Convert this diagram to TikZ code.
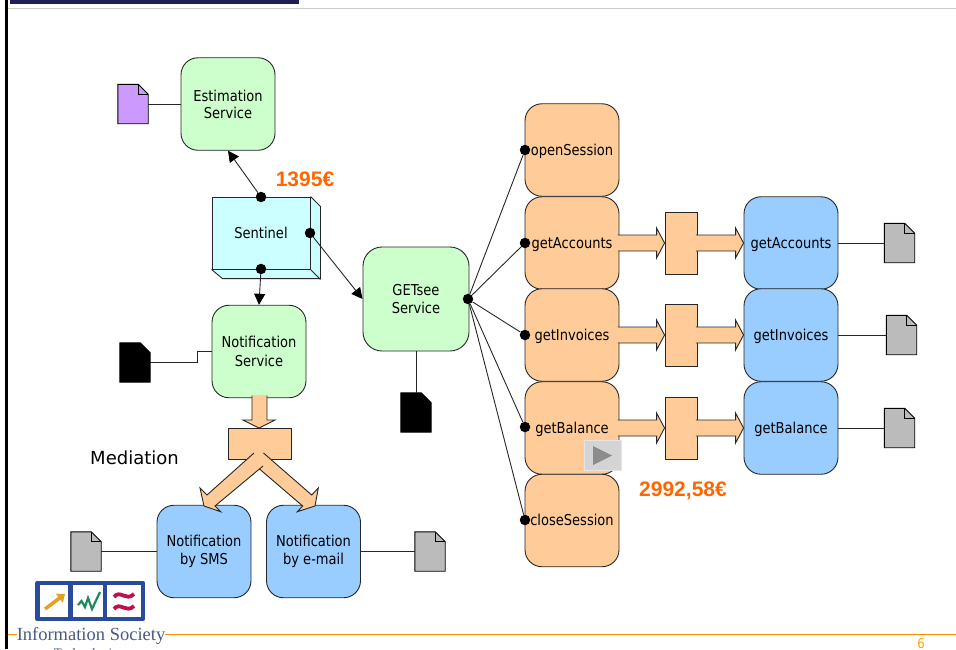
\documentclass[tikz,border=0pt]{standalone}
\usepackage{fontspec}
\setmainfont[FakeStretch=0.87]{DejaVu Sans}
\newfontfamily\medfont{DejaVu Sans}
\newfontfamily\arialbold{Liberation Sans}
\newfontfamily\logofont{Liberation Serif}
\usetikzlibrary{calc,arrows.meta}

\definecolor{svcgreen}{HTML}{CCFFCC}
\definecolor{svccyan}{HTML}{CCFFFF}
\definecolor{svcpeach}{HTML}{FFCC99}
\definecolor{svcblue}{HTML}{99CCFF}
\definecolor{docpurple}{HTML}{CC99FF}
\definecolor{docgray}{HTML}{BBBBBB}
\definecolor{priceorange}{HTML}{FF6600}
\definecolor{rulenavy}{HTML}{1F1F55}
\definecolor{logoblue}{HTML}{2A4A9A}
\definecolor{logotext}{HTML}{4A5A85}
\definecolor{logogold}{HTML}{E0A020}
\definecolor{logoteal}{HTML}{1A8A5A}
\definecolor{logored}{HTML}{C0104A}

\tikzset{
    svc/.style = {shape=rectangle, draw=black!85, line width=0.9pt, rounded corners=17pt,
        minimum width=94pt, minimum height=92.5pt, inner sep=0pt, align=center,
        font=\fontsize{15}{18}\selectfont},
    greensvc/.style = {svc, fill=svcgreen},
    peachsvc/.style = {svc, fill=svcpeach, text height=13pt, text depth=3pt},
    bluesvc/.style = {svc, fill=svcblue},
    bluecall/.style = {bluesvc, text height=13pt, text depth=3pt},
    mediator/.style = {shape=rectangle, draw=black!85, line width=0.9pt, fill=svcpeach, inner sep=0pt},
    port/.style = {shape=circle, fill=black, inner sep=0pt, minimum size=10.5pt},
    link/.style = {draw=black!85, line width=0.9pt},
    call/.style = {link, -{Triangle[length=11pt,width=11pt,color=black]}},
    price/.style = {text=priceorange, font=\arialbold\bfseries\fontsize{21}{24}\selectfont},
    flowfill/.style = {fill=svcpeach},
    flowline/.style = {draw=black!85, line width=0.9pt},
}

% a document icon, name / centre / colour
\newcommand{\docnode}[3]{
    \node (#1) at (#2) [minimum width=30pt, minimum height=39pt, inner sep=0pt] {};
    \draw[black, line width=0.9pt, fill=#3] (#1.north west) -- ($(#1.north east)+(-10,0)$)
        -- ($(#1.north east)+(0,10)$) -- (#1.south east) -- (#1.south west) -- cycle;
    \draw[black, line width=0.9pt] ($(#1.north east)+(-10,0)$) -- ($(#1.north east)+(-10,10)$)
        -- ($(#1.north east)+(0,10)$);
}
% a flat arrow going right, from / tip
\newcommand{\rightflow}[2]{
    \fill[flowfill] ($(#1)+(-1.5,-8)$) -- ($(#2)+(-8,-8)$) -- ($(#2)+(-8,-15)$) -- (#2)
        -- ($(#2)+(-8,15)$) -- ($(#2)+(-8,8)$) -- ($(#1)+(-1.5,8)$) -- cycle;
    \draw[flowline] ($(#1)+(-1.5,-8)$) -- ($(#2)+(-8,-8)$) -- ($(#2)+(-8,-15)$) -- (#2)
        -- ($(#2)+(-8,15)$) -- ($(#2)+(-8,8)$) -- ($(#1)+(-1.5,8)$);
}

\begin{document}
\begin{tikzpicture}[x=1pt, y=-1pt]
    \useasboundingbox (0,0) rectangle (956,649);
    \clip (0,0) rectangle (956,649);

    % slide frame
    \fill[rulenavy] (10,0) rectangle (299,4);
    \draw[black!20, line width=1pt] (8,8.5) -- (956,8.5);
    \draw[orange!90!yellow, line width=1pt] (8,634.5) -- (956,634.5);
    \fill[black] (4.5,0) rectangle (7.5,649);
    \node (pagenum) at (921,644) [text=orange!75!yellow, font=\fontsize{13.5}{15}\selectfont] {6};

    % services
    \node (estim) at (228,104) [greensvc, font=\fontsize{15}{17}\selectfont] {Estimation\\Service};
    \node (notif) at (259,351.5) [greensvc, font=\fontsize{15}{19}\selectfont] {Notification\\Service};
    \node (getsee) at (416,299) [greensvc, minimum width=106pt, minimum height=104pt, rounded corners=19pt] {GETsee\\Service};
    \node (sms) at (204,551.5) [bluesvc] {Notification\\by SMS};
    \node (email) at (313.5,551.5) [bluesvc] {Notification\\by e-mail};

    % sentinel
    \fill[svccyan] (212,197) -- (310,197) -- (320,207) -- (320,279) -- (222,279) -- (212,269) -- cycle;
    \node (sentinel) at (261,233) [shape=rectangle, draw=black!85, line width=0.9pt, fill=svccyan,
        minimum width=98pt, minimum height=72pt, inner sep=0pt, font=\fontsize{15}{18}\selectfont] {Sentinel};
    \draw[link] (sentinel.north east) -- ++(10,10) -- ++(0,72) -- ++(-98,0) -- (sentinel.south west);
    \draw[link] (sentinel.south east) -- ++(10,10);

    % operations
    \node (opensess) at (572,150) [peachsvc] {openSession};
    \node (oaccounts) at (572,243) [peachsvc] {getAccounts};
    \node (oinvoices) at (572,335) [peachsvc] {getInvoices};
    \node (obalance) at (572,428) [peachsvc] {getBalance};
    \node (closesess) at (572,520.5) [peachsvc] {closeSession};

    \node (baccounts) at (791,243) [bluecall] {getAccounts};
    \node (binvoices) at (791,335) [bluecall] {getInvoices};
    \node (bbalance) at (791,428) [bluecall] {getBalance};

    % mediators
    \node (maccounts) at (681,243) [mediator, minimum width=32pt, minimum height=62pt] {};
    \node (minvoices) at (681,335) [mediator, minimum width=32pt, minimum height=62pt] {};
    \node (mbalance) at (681,428) [mediator, minimum width=32pt, minimum height=62pt] {};
    \node (mediation) at (259.5,443.5) [mediator, minimum width=63pt, minimum height=31pt] {};

    \rightflow{oaccounts.east}{maccounts.west}
    \rightflow{maccounts.east}{baccounts.west}
    \rightflow{oinvoices.east}{minvoices.west}
    \rightflow{minvoices.east}{binvoices.west}
    \rightflow{obalance.east}{mbalance.west}
    \rightflow{mbalance.east}{bbalance.west}

    % mediation flows
    \fill[flowfill] (252,395) -- (252,420) -- (243,420) -- (259,428) -- (275,420) -- (267,420) -- (267,395) -- cycle;
    \draw[flowline] (252,395.5) -- (252,420) -- (243,420) -- (259,428) -- (275,420) -- (267,420) -- (267,395.5);
    \fill[flowfill] (254,453) -- (207,495) -- (200,488) -- (204,506) -- (220.7,511.7) -- (215,506) -- (259.5,469)
        -- (302.7,506) -- (297.3,511.7) -- (315,506) -- (318.3,488) -- (311.7,495) -- (263.5,453) -- cycle;
    \draw[flowline] (254,453) -- (207,495) -- (200,488) -- (204,506) -- (220.7,511.7) -- (215,506) -- (263,466);
    \draw[flowline] (263.5,453) -- (311.7,495) -- (318.3,488) -- (315,506) -- (297.3,511.7) -- (302.7,506) -- (259.5,469);

    % ports
    \node (ptop) at (261,197) [port] {};
    \node (pright) at (310,233) [port] {};
    \node (pbottom) at (261,269) [port] {};
    \node (pgetsee) at (468,299) [port] {};
    \node (popen) at (525,150) [port] {};
    \node (paccounts) at (525,243) [port] {};
    \node (pinvoices) at (525,335) [port] {};
    \node (pbalance) at (525,427) [port] {};
    \node (pclose) at (525,520) [port] {};

    \draw[call] (ptop) -- (estim.south);
    \draw[call] (pright) -- (getsee.west);
    \draw[call] (pbottom) -- (notif.north);
    \foreach \target in {popen,paccounts,pinvoices,pbalance,pclose}
        \draw[link] (pgetsee) -- (\target);

    % documents
    \docnode{docestim}{133,104}{docpurple}
    \docnode{docnotif}{135,362.5}{black}
    \docnode{docgetsee}{416,412.5}{black}
    \docnode{docsms}{86,551.5}{docgray}
    \docnode{docemail}{430,551.5}{docgray}
    \docnode{docaccounts}{899.5,243}{docgray}
    \docnode{docinvoices}{901.5,335}{docgray}
    \docnode{docbalance}{899.5,428}{docgray}

    \draw[link] (docestim.east) -- (estim.west);
    \draw[link] (docnotif.east) -- (197,362.5) -- (197,351.5) -- (notif.west);
    \draw[link] (docgetsee.north) -- (getsee.south);
    \draw[link] (docsms.east) -- (sms.west);
    \draw[link] (docemail.west) -- (email.east);
    \draw[link] (baccounts.east) -- (docaccounts.west);
    \draw[link] (binvoices.east) -- (docinvoices.west);
    \draw[link] (bbalance.east) -- (docbalance.west);

    % labels
    \node (medlabel) at (134.5,458) [font=\medfont\fontsize{18}{22}\selectfont] {Mediation};
    \node (price1) at (305,179) [price] {1395€};
    \node (price2) at (683,490.5) [price] {2992,58€};

    % play button
    \node (playbtn) at (603,455.5) [shape=rectangle, fill=black!17, draw=black!10, line width=1.5pt,
        minimum width=37pt, minimum height=30pt, inner sep=0pt] {};
    \fill[black!45] (593,446) -- (612,455.5) -- (593,465) -- cycle;

    % logo
    \fill[white] (17,628) rectangle (165,649);
    \foreach \cellx/\cellw in {37.5/33,70.5/34.5,105/38}
        \draw[logoblue, line width=4.5pt, line join=round] (\cellx,583) rectangle ++(\cellw,36);
    \draw[logogold, line width=3.5pt, -{Triangle[length=7pt,width=11pt]}] (45,609) -- (65,594);
    \draw[logoteal, line width=2.2pt] (78,605) -- (81.5,601) -- (85,607) -- (88,598) -- (92,609) -- (100,592);
    \draw[logored, line width=3.8pt] (114,597) .. controls (120,589) and (126,602) .. (134,594);
    \draw[logored, line width=3.8pt] (114,609) .. controls (120,601) and (126,614) .. (134,606);
    \node (logotitle) at (91,635.5) [text=logotext, inner sep=0pt, font=\logofont\fontsize{18.5}{20}\selectfont] {Information Society};
    \node (logotech) at (88.5,654) [text=logotext, inner sep=0pt, font=\logofont\fontsize{13}{15}\selectfont] {Technologies};
\end{tikzpicture}
\end{document}
